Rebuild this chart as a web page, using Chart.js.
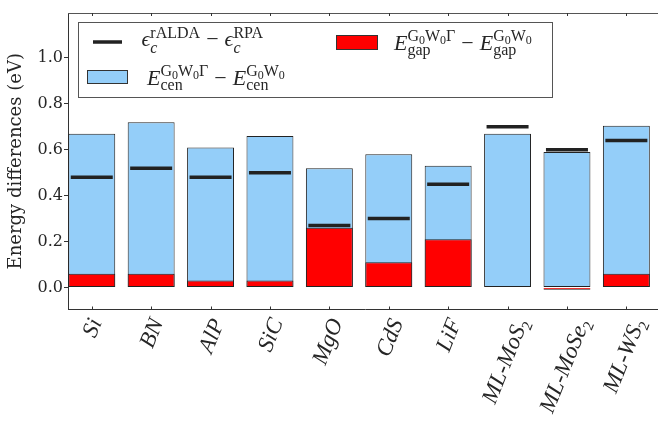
<!DOCTYPE html>
<html>
<head>
<meta charset="utf-8">
<script src="https://cdn.jsdelivr.net/npm/chart.js@4.4.1/dist/chart.umd.min.js"></script>
<style>
html,body{margin:0;padding:0;background:#fff;overflow:hidden}
#wrap{position:relative;width:658px;height:421px;overflow:hidden;background:#fff}
#c{position:absolute;left:0;top:0}
</style>
</head>
<body>
<div id="wrap"><canvas id="c" width="662" height="421" style="width:662px;height:421px"></canvas></div>
<script>
// ---- data ----
const categories = ['Si','BN','AlP','SiC','MgO','CdS','LiF','ML-MoS₂','ML-MoSe₂','ML-WS₂'];
const cenDiff  = [0.67, 0.72, 0.61, 0.66, 0.52, 0.58, 0.53, 0.67, 0.59, 0.705]; // E_cen^{G0W0Γ} - E_cen^{G0W0}
const gapDiff  = [0.06, 0.06, 0.03, 0.03, 0.26, 0.11, 0.21, 0.00, -0.01, 0.06]; // E_gap^{G0W0Γ} - E_gap^{G0W0}
const corrDiff = [0.48, 0.52, 0.48, 0.50, 0.27, 0.30, 0.45, 0.70, 0.60, 0.64];  // eps_c^{rALDA} - eps_c^{RPA}
const yTicks = [0.0, 0.2, 0.4, 0.6, 0.8, 1.0];
const yLabel = 'Energy differences (eV)';
const seriesLabels = ['ϵc rALDA − ϵc RPA', 'Egap G0W0Γ − Egap G0W0', 'Ecen G0W0Γ − Ecen G0W0'];

const BLUE = 'rgb(148,206,249)';
const RED = '#ff0000';
const EDGE = '#222222';
const TXT = '#262626';
const pos = i => i + 0.4;   // bar centre on the linear x scale (bars start at i)

// ---- rich text helper (super/subscripts) ----
function drawRuns(ctx, runs, x, y, measureOnly) {
  const x0 = x;
  for (const r of runs) {
    if (r.sup || r.sub) {
      const w1 = r.sup ? drawRuns(ctx, r.sup, x, y + r.supDy, measureOnly) : 0;
      const w2 = r.sub ? drawRuns(ctx, r.sub, x, y + r.subDy, measureOnly) : 0;
      x += Math.max(w1, w2);
    } else if (r.space) {
      x += r.space;
    } else {
      ctx.font = (r.it ? 'italic ' : '') + r.s + 'px "Liberation Serif", "DejaVu Serif", serif';
      if (!measureOnly) ctx.fillText(r.t, x, y + (r.dy || 0));
      x += ctx.measureText(r.t).width;
    }
  }
  return x - x0;
}
const M = 22, S = 16, SS = 12;
const g0w0 = (gamma) => {
  const a = [{t:'G',s:S},{t:'0',s:SS,dy:3},{t:'W',s:S},{t:'0',s:SS,dy:3}];
  if (gamma) a.push({t:'Γ',s:S});
  return a;
};
const legendCorr = [
  {t:'ϵ',it:1,s:M},
  {sup:[{t:'rALDA',s:S}], sub:[{t:'c',it:1,s:S}], supDy:-8, subDy:7},
  {space:6},{t:'−',s:M},{space:6},
  {t:'ϵ',it:1,s:M},
  {sup:[{t:'RPA',s:S}], sub:[{t:'c',it:1,s:S}], supDy:-8, subDy:7}
];
const legendE = (sub) => [
  {t:'E',it:1,s:M},
  {sup:g0w0(true), sub:[{t:sub,s:S}], supDy:-9, subDy:5},
  {space:6},{t:'−',s:M},{space:6},
  {t:'E',it:1,s:M},
  {sup:g0w0(false), sub:[{t:sub,s:S}], supDy:-9, subDy:5}
];

const XL = 23;       // x tick label font size
const XROT = 68;     // x tick label rotation (deg)

const decorPlugin = {
  id: 'decor',
  afterDraw(chart) {
    const ctx = chart.ctx;
    const area = chart.chartArea;
    const xs = chart.scales.x;
    ctx.save();
    // top spine
    ctx.strokeStyle = '#555';
    ctx.lineWidth = 1;
    ctx.beginPath();
    ctx.moveTo(area.left, Math.round(area.top) + 0.5);
    ctx.lineTo(area.right, Math.round(area.top) + 0.5);
    ctx.stroke();
    // inward ticks on top and bottom at category centres
    ctx.strokeStyle = '#333';
    categories.forEach((c, i) => {
      const px = Math.round(xs.getPixelForValue(pos(i))) + 0.5;
      ctx.beginPath();
      ctx.moveTo(px, area.top); ctx.lineTo(px, area.top + 3);
      ctx.moveTo(px, area.bottom); ctx.lineTo(px, area.bottom - 3);
      ctx.stroke();
    });
    // x tick labels, rotated, centred under the tick (bbox centre)
    const ang = XROT * Math.PI / 180;
    const c = Math.cos(ang), s = Math.sin(ang);
    ctx.fillStyle = TXT;
    ctx.textBaseline = 'alphabetic';
    ctx.textAlign = 'left';
    categories.forEach((lab, i) => {
      const parts = lab.split('₂');
      const runs = [{t:parts[0], it:1, s:XL}];
      if (parts.length > 1) runs.push({t:'2', s:15, dy:5});
      const L = drawRuns(ctx, runs, 0, 0, true);
      ctx.font = 'italic ' + XL + 'px "Liberation Serif"';
      const mt = ctx.measureText(parts[0]);
      const asc = mt.actualBoundingBoxAscent;
      const desc = Math.max(mt.actualBoundingBoxDescent, parts.length > 1 ? 6 : 0);
      const pts = [[0,-asc],[L,-asc],[0,desc],[L,desc]].map(([x,y]) => [x*c + y*s, -x*s + y*c]);
      const minX = Math.min(...pts.map(p=>p[0])), maxX = Math.max(...pts.map(p=>p[0]));
      const minY = Math.min(...pts.map(p=>p[1]));
      const px = xs.getPixelForValue(pos(i));
      const ox = px - (minX + maxX) / 2;
      const oy = area.bottom + 7 - minY;
      ctx.save();
      ctx.translate(ox, oy);
      ctx.rotate(-ang);
      drawRuns(ctx, runs, 0, 0, false);
      ctx.restore();
    });
    // legend
    ctx.fillStyle = '#fff';
    ctx.fillRect(78.5, 22.5, 474, 75);
    ctx.strokeStyle = '#555';
    ctx.lineWidth = 1;
    ctx.strokeRect(78.5, 22.5, 474, 75);
    ctx.strokeStyle = EDGE;
    ctx.lineWidth = 3.5;
    ctx.beginPath(); ctx.moveTo(93, 42); ctx.lineTo(122, 42); ctx.stroke();
    ctx.fillStyle = BLUE; ctx.fillRect(87, 70, 41, 14);
    ctx.strokeStyle = '#333'; ctx.lineWidth = 1; ctx.strokeRect(87.5, 70.5, 40, 13);
    ctx.fillStyle = RED; ctx.fillRect(336, 35, 42, 15);
    ctx.strokeRect(336.5, 35.5, 41, 14);
    ctx.fillStyle = TXT;
    drawRuns(ctx, legendCorr, 141.5, 46, false);
    drawRuns(ctx, legendE('cen'), 147, 85, false);
    drawRuns(ctx, legendE('gap'), 394, 50, false);
    ctx.restore();
  }
};

const barCommon = {
  borderColor: EDGE, borderSkipped: false,
  grouped: false, categoryPercentage: 1, barPercentage: 0.79
};

new Chart(document.getElementById('c'), {
  type: 'bar',
  data: {
    datasets: [
      {
        type: 'scatter', label: seriesLabels[0],
        data: corrDiff.map((v, i) => ({x: pos(i), y: v})),
        pointStyle: 'line', pointRadius: 21, pointHoverRadius: 21,
        borderColor: '#222', borderWidth: 3.5, backgroundColor: '#222', order: 0
      },
      Object.assign({
        label: seriesLabels[1],
        data: gapDiff.map((v, i) => ({x: pos(i), y: v})),
        backgroundColor: RED, order: 1,
        borderWidth: c => (c.raw && c.raw.y < 0) ? {bottom: 1, left: 0, right: 0, top: 0} : 1
      }, barCommon),
      Object.assign({
        label: seriesLabels[2],
        data: cenDiff.map((v, i) => ({x: pos(i), y: v})),
        backgroundColor: BLUE, order: 2, borderWidth: 1
      }, barCommon)
    ]
  },
  options: {
    responsive: false,
    animation: false,
    devicePixelRatio: 1,
    layout: {autoPadding: false, padding: {top: 13, left: 0, right: 0, bottom: 0}},
    plugins: {legend: {display: false}, tooltip: {enabled: false}},
    scales: {
      x: {
        type: 'linear', min: 0, max: 10, offset: false,
        grid: {display: false, drawTicks: false, offset: false},
        border: {display: true, color: '#333', width: 1},
        ticks: {display: false},
        afterFit(s) { s.height = 111.5; }
      },
      y: {
        type: 'linear', min: -0.096, max: 1.196,
        afterBuildTicks(s) { s.ticks = yTicks.map(v => ({value: v})); },
        ticks: {
          callback: v => Number(v).toFixed(1),
          font: {family: 'DejaVu Serif', size: 16},
          color: TXT, padding: 1
        },
        grid: {drawOnChartArea: false, drawTicks: true, tickLength: 4, color: '#333'},
        border: {display: true, color: '#333', width: 1},
        title: {
          display: true, text: yLabel,
          font: {family: 'DejaVu Serif', size: 18}, color: TXT,
          padding: {top: 6, bottom: 0}
        },
        afterFit(s) { s.width = 68; }
      }
    }
  },
  plugins: [decorPlugin]
});
</script>
</body>
</html>
